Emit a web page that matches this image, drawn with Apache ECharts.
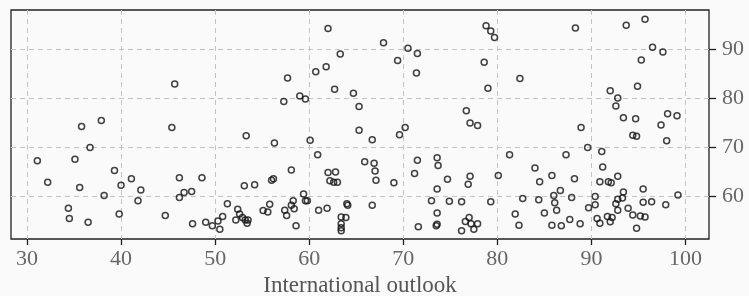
<!DOCTYPE html>
<html>
<head>
<meta charset="utf-8">
<script src="https://cdn.jsdelivr.net/npm/echarts@6/dist/echarts.min.js"></script>
<style>
  html, body { margin: 0; padding: 0; background: #fafafa; }
  #chart { width: 749px; height: 296px; }
</style>
</head>
<body>
<div id="chart"></div>
<script>
// values
const outlook = [
  45.7, 37.9, 35.8, 45.4, 62.0, 67.9, 63.3, 61.8, 60.7, 57.7, 62.7, 64.7, 65.3, 59.0, 59.6, 57.3,
  78.8, 79.3, 79.7, 88.3, 70.5, 71.5, 69.4, 78.6, 71.4, 82.4, 79.0, 76.7, 77.1, 77.9, 70.2,
  93.7, 95.7, 96.5, 97.6, 95.3, 94.9, 92.0, 92.8, 92.6, 93.4, 94.7, 98.1, 99.1, 97.4, 88.9,
  36.7, 31.1, 35.1, 39.3, 32.2, 35.6, 40.0, 41.1, 42.1, 38.2, 41.8, 46.2, 46.7, 46.2, 47.5,
  34.4, 34.5, 36.5, 39.8, 44.7, 47.6,
  53.3, 56.3, 60.1, 65.3, 66.7, 60.9, 65.9, 66.9, 67.0, 67.1, 62.0, 62.8, 62.2, 62.6, 63.0,
  58.1, 56.0, 56.2, 48.6, 53.1, 54.2, 59.4, 59.6, 59.8, 58.3, 51.3, 55.8, 58.1, 58.4, 52.4,
  52.6, 55.1, 55.6, 57.4, 57.6, 61.0, 61.9, 64.0, 64.1, 66.7, 63.4, 63.9, 63.4, 63.4, 63.4,
  58.6, 50.8, 50.3, 49.0, 49.7, 50.5, 52.2, 52.9, 53.2, 53.4, 53.5,
  69.6, 71.5, 73.6, 73.7, 71.2, 69.0, 74.7, 77.1, 76.9, 73.6, 73.0, 74.9, 76.2, 79.3, 73.6,
  71.6, 73.5, 73.6, 76.2, 76.6, 77.0, 77.2, 77.5, 77.9,
  80.1, 81.3, 87.3, 84.0, 84.5, 85.8, 88.2, 86.7, 86.0, 86.1, 86.3, 84.4, 82.7, 87.9, 81.9,
  82.3, 85.0, 85.8, 86.8, 87.7,
  94.4, 94.8, 98.0, 89.6, 91.1, 91.2, 90.9, 91.8, 92.1, 92.8, 93.4, 95.5, 90.4, 90.4, 89.7,
  92.8, 92.6, 92.8, 93.3, 93.9, 95.5, 96.4, 97.9, 99.2, 90.6, 90.9, 91.7, 92.2, 92.0, 94.4,
  95.2, 95.7, 94.8, 88.8
];
const score = [
  82.9, 75.4, 74.2, 74.0, 94.2, 91.3, 89.0, 86.4, 85.4, 84.1, 81.8, 81.0, 78.3, 80.4, 79.8, 79.3,
  94.8, 93.7, 92.4, 94.3, 90.2, 89.1, 87.7, 87.3, 85.1, 84.0, 82.0, 77.4, 74.9, 74.4, 74.0,
  94.9, 96.1, 90.4, 89.4, 87.8, 82.4, 81.5, 80.0, 78.4, 76.0, 75.8, 76.8, 76.4, 74.5, 74.0,
  69.9, 67.2, 67.5, 65.2, 62.8, 61.7, 62.2, 63.5, 61.2, 60.1, 59.0, 63.7, 60.7, 59.7, 60.9,
  57.5, 55.4, 54.6, 56.3, 56.0, 54.3,
  72.3, 70.8, 71.4, 73.4, 71.5, 68.4, 67.0, 66.7, 65.1, 63.2, 64.8, 64.9, 63.1, 62.8, 62.8,
  65.3, 63.2, 63.5, 63.7, 62.1, 62.3, 60.4, 59.0, 59.0, 59.0, 58.4, 58.3, 58.1, 57.4, 57.3,
  56.3, 57.0, 56.7, 57.1, 56.0, 57.1, 57.5, 58.4, 58.1, 58.1, 55.7, 55.6, 54.3, 53.5, 52.9,
  53.9, 55.8, 54.9, 54.6, 53.9, 53.2, 55.1, 55.6, 55.1, 54.4, 55.1,
  72.5, 67.3, 67.8, 66.2, 64.6, 62.7, 63.4, 64.0, 62.4, 61.4, 59.0, 58.9, 58.8, 58.8, 56.5,
  53.7, 53.9, 54.2, 52.9, 54.8, 55.6, 54.3, 53.2, 54.3,
  64.2, 68.4, 68.4, 65.7, 62.9, 64.2, 63.5, 61.1, 60.1, 58.6, 57.1, 59.2, 59.5, 59.7, 56.3,
  54.0, 56.5, 54.0, 53.9, 55.2,
  72.4, 72.2, 71.3, 69.9, 69.1, 65.9, 62.9, 62.9, 62.7, 64.0, 60.8, 61.4, 59.9, 58.2, 57.6,
  59.3, 58.4, 57.1, 59.6, 57.5, 58.7, 58.8, 58.2, 60.2, 55.4, 54.4, 55.8, 55.6, 54.7, 56.1,
  55.9, 55.7, 53.4, 54.3
];
const xTicks = [30, 40, 50, 60, 70, 80, 90, 100];
const yTicks = [60, 70, 80, 90];

const chart = echarts.init(document.getElementById("chart"));
const font = "Liberation Serif";
const points = outlook.map((x, i) => [x, score[i]]);

chart.setOption({
  animation: false,
  backgroundColor: "#fafafa",
  grid: {
    left: 11, right: 40, top: 10, bottom: 57,
    outerBoundsMode: "none",
    show: true, borderColor: "#222", borderWidth: 1.3, backgroundColor: "transparent",
  },
  xAxis: {
    type: "value",
    min: 28.3,
    max: 102.5,
    name: "International outlook",
    nameLocation: "middle",
    nameGap: 34,
    nameTextStyle: { fontFamily: font, fontSize: 23, color: "#555" },
    axisLine: { show: false },
    axisTick: { show: true, customValues: xTicks, length: 6, lineStyle: { color: "#222", width: 1.3 } },
    axisLabel: { customValues: xTicks, margin: 9, fontFamily: font, fontSize: 22, color: "#666" },
    splitLine: { show: true, lineStyle: { color: "#c4c4c4", type: [5, 4], width: 1 } },
  },
  yAxis: {
    type: "value",
    position: "right",
    min: 51.2,
    max: 98.0,
    axisLine: { show: false },
    axisTick: { show: true, customValues: yTicks, length: 7, lineStyle: { color: "#222", width: 1.3 } },
    axisLabel: { customValues: yTicks, margin: 13, fontFamily: font, fontSize: 22, color: "#666", padding: [6, 0, 0, 0] },
    splitLine: { show: true, lineStyle: { color: "#c4c4c4", type: [5, 4], width: 1 } },
  },
  series: [
    {
      type: "scatter",
      data: points,
      symbol: "circle",
      symbolSize: 6,
      itemStyle: { color: "rgba(255,255,255,0)", borderColor: "#111", borderWidth: 1.5 },
    },
  ],
});
</script>
</body>
</html>
